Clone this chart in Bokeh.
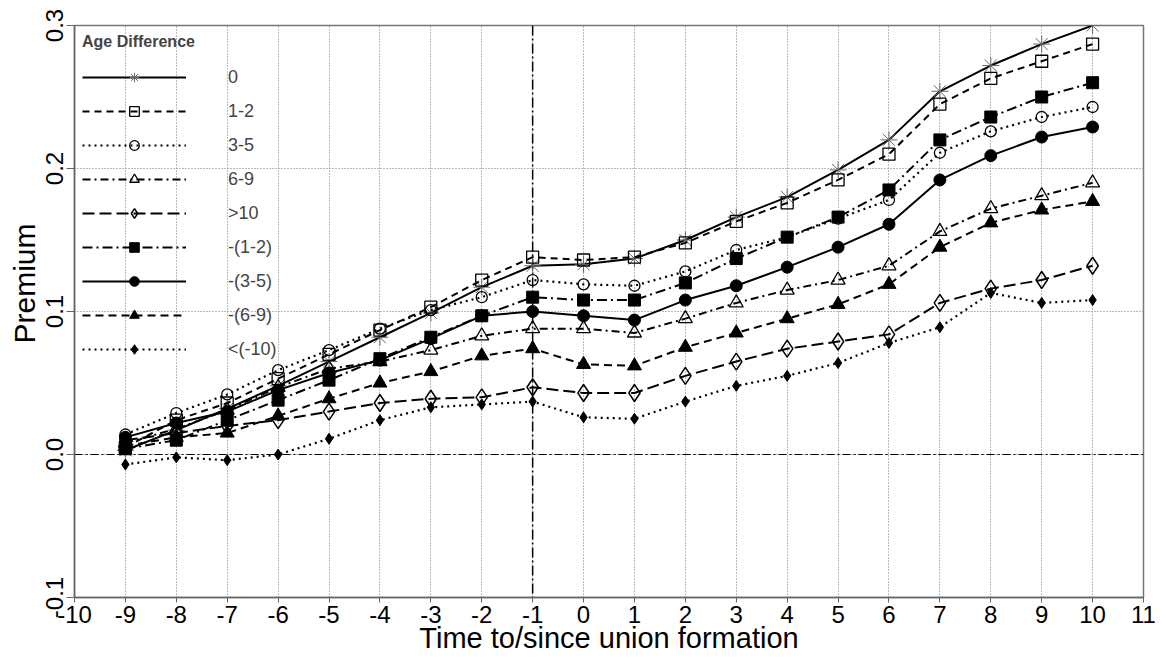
from bokeh.plotting import figure
from bokeh.models import Legend, LegendItem, Span, FixedTicker, Title
from bokeh.embed import file_html
from bokeh.resources import INLINE

# ---- data ----
years = list(range(-9, 11))
labels = ["0", "1-2", "3-5", "6-9", ">10", "-(1-2)", "-(3-5)", "-(6-9)", "<(-10)"]

age_0 = [0.003, 0.017, 0.032, 0.048, 0.065, 0.082, 0.099, 0.117, 0.132, 0.133,
         0.137, 0.150, 0.166, 0.180, 0.199, 0.220, 0.254, 0.272, 0.287, 0.300]
age_1_2 = [0.005, 0.024, 0.036, 0.053, 0.070, 0.087, 0.103, 0.122, 0.138, 0.136,
           0.138, 0.148, 0.163, 0.176, 0.192, 0.210, 0.245, 0.263, 0.275, 0.287]
age_3_5 = [0.014, 0.029, 0.042, 0.059, 0.073, 0.088, 0.101, 0.110, 0.122, 0.119,
           0.118, 0.128, 0.143, 0.152, 0.165, 0.178, 0.211, 0.226, 0.236, 0.243]
age_6_9 = [0.008, 0.018, 0.031, 0.047, 0.060, 0.065, 0.073, 0.083, 0.088, 0.088,
           0.085, 0.095, 0.106, 0.115, 0.122, 0.132, 0.156, 0.172, 0.181, 0.190]
age_gt10 = [0.010, 0.015, 0.020, 0.024, 0.030, 0.036, 0.039, 0.040, 0.047, 0.043,
            0.043, 0.055, 0.065, 0.074, 0.079, 0.084, 0.106, 0.116, 0.122, 0.132]
age_m1_2 = [0.004, 0.010, 0.024, 0.038, 0.052, 0.067, 0.082, 0.097, 0.110, 0.108,
            0.108, 0.120, 0.137, 0.152, 0.166, 0.185, 0.220, 0.236, 0.250, 0.260]
age_m3_5 = [0.012, 0.022, 0.030, 0.045, 0.057, 0.066, 0.081, 0.097, 0.100, 0.097,
            0.094, 0.108, 0.118, 0.131, 0.145, 0.161, 0.192, 0.209, 0.222, 0.229]
age_m6_9 = [0.006, 0.012, 0.015, 0.027, 0.039, 0.050, 0.058, 0.069, 0.074, 0.063,
            0.062, 0.075, 0.085, 0.095, 0.105, 0.119, 0.145, 0.162, 0.171, 0.177]
age_lt_m10 = [-0.007, -0.002, -0.004, 0.000, 0.011, 0.024, 0.033, 0.035, 0.037, 0.026,
              0.025, 0.037, 0.048, 0.055, 0.064, 0.078, 0.089, 0.113, 0.106, 0.108]

series = [age_0, age_1_2, age_3_5, age_6_9, age_gt10, age_m1_2, age_m3_5, age_m6_9, age_lt_m10]
x_ticks = list(range(-10, 12))
x_tick_labels = [str(t) for t in x_ticks]
y_ticks = [-0.1, 0.0, 0.1, 0.2, 0.3]
y_tick_labels = ["-0.1", "0.0", "0.1", "0.2", "0.3"]

# ---- styles: (dash, line width, marker, size, filled, marker line color, marker line width)
styles = [
    ("solid", 2, "asterisk", 17, False, "#666666", 1),
    ("7 5", 2, "square", 12, False, "black", 1.3),
    ("2 4", 2.2, "circle", 11, False, "black", 1.3),
    ("8 4 2 4", 2, "triangle", 14, False, "black", 1.3),
    ("12 5", 2, "diamond", 17, False, "black", 1.5),
    ("10 4 2 4", 2, "square", 12, True, "black", 1),
    ("solid", 2, "circle", 12, True, "black", 1),
    ("8 5", 2, "triangle", 14, True, "black", 1),
    ("2 4", 2.2, "diamond", 11, True, "black", 1),
]

FONT = "Liberation Sans"

p = figure(width=1163, height=657, x_range=(-10, 11), y_range=(-0.1, 0.3),
           output_backend="svg", toolbar_location=None,
           min_border_left=74, min_border_top=25, min_border_right=20, min_border_bottom=60)

p.outline_line_color = "#777777"
p.outline_line_width = 1.5
p.background_fill_color = "white"

# grids
p.xgrid.ticker = FixedTicker(ticks=x_ticks)
p.ygrid.ticker = FixedTicker(ticks=y_ticks)
for g in (p.xgrid, p.ygrid):
    g.grid_line_color = "#777777"
    g.grid_line_dash = "1 2"
    g.grid_line_width = 1

# axes
p.xaxis.ticker = FixedTicker(ticks=x_ticks)
p.yaxis.ticker = FixedTicker(ticks=y_ticks)
p.xaxis.major_label_overrides = dict(zip(x_ticks, x_tick_labels))
p.yaxis.major_label_overrides = dict(zip(y_ticks, y_tick_labels))
p.yaxis.major_label_orientation = "vertical"
p.xaxis.axis_label = "Time to/since union formation"
for ax in (p.xaxis, p.yaxis):
    ax.axis_label_text_font = FONT
    ax.axis_label_text_font_style = "normal"
    ax.axis_label_text_color = "black"
    ax.major_label_text_font = FONT
    ax.major_label_text_color = "black"
    ax.axis_line_color = "#666666"
    ax.axis_line_width = 1.5
    ax.major_tick_line_color = "#666666"
    ax.minor_tick_line_color = None
    ax.major_tick_in = 0
p.xaxis.axis_label_text_font_size = "29px"
p.xaxis.major_label_text_font_size = "24px"
p.yaxis.major_label_text_font_size = "24px"
p.xaxis.major_tick_out = 5
p.yaxis.major_tick_out = 8
p.xaxis.major_label_standoff = 3
p.yaxis.major_label_standoff = 4
p.xaxis.axis_label_standoff = -4

# y axis title, placed a little above the frame centre as in the original
p.add_layout(Title(text="Premium", align="left", offset=254, standoff=4,
                   text_font=FONT, text_font_size="30px", text_font_style="normal",
                   text_color="black"), "left")

# reference lines
p.add_layout(Span(location=0, dimension="width", line_color="black", line_width=1,
                  line_dash="8 3 2 3", level="underlay"))
p.add_layout(Span(location=-1, dimension="height", line_color="black", line_width=1.5,
                  line_dash="10 3 2 3", level="underlay"))

items = []
for lab, vals, st in zip(labels, series, styles):
    dash, lw, marker, size, filled, mcol, mlw = st
    r_line = p.line(years, vals, line_color="black", line_width=lw, line_dash=dash)
    r_pts = p.scatter(years, vals, marker=marker, size=size,
                      line_color=mcol, line_width=mlw,
                      fill_color="black" if filled else None,
                      fill_alpha=1 if filled else 0)
    items.append(LegendItem(label=lab, renderers=[r_line, r_pts]))

legend = Legend(items=items, location="top_left", title="Age Difference",
                title_text_font=FONT, title_text_font_style="bold", title_text_font_size="16px",
                title_standoff=14,
                label_text_font=FONT, label_text_font_size="18px",
                glyph_width=104, glyph_height=24, label_height=24, label_standoff=42,
                spacing=10, padding=8, margin=0,
                background_fill_alpha=0, border_line_alpha=0)
p.add_layout(legend)

open("out.html", "w").write(file_html(p, INLINE))
